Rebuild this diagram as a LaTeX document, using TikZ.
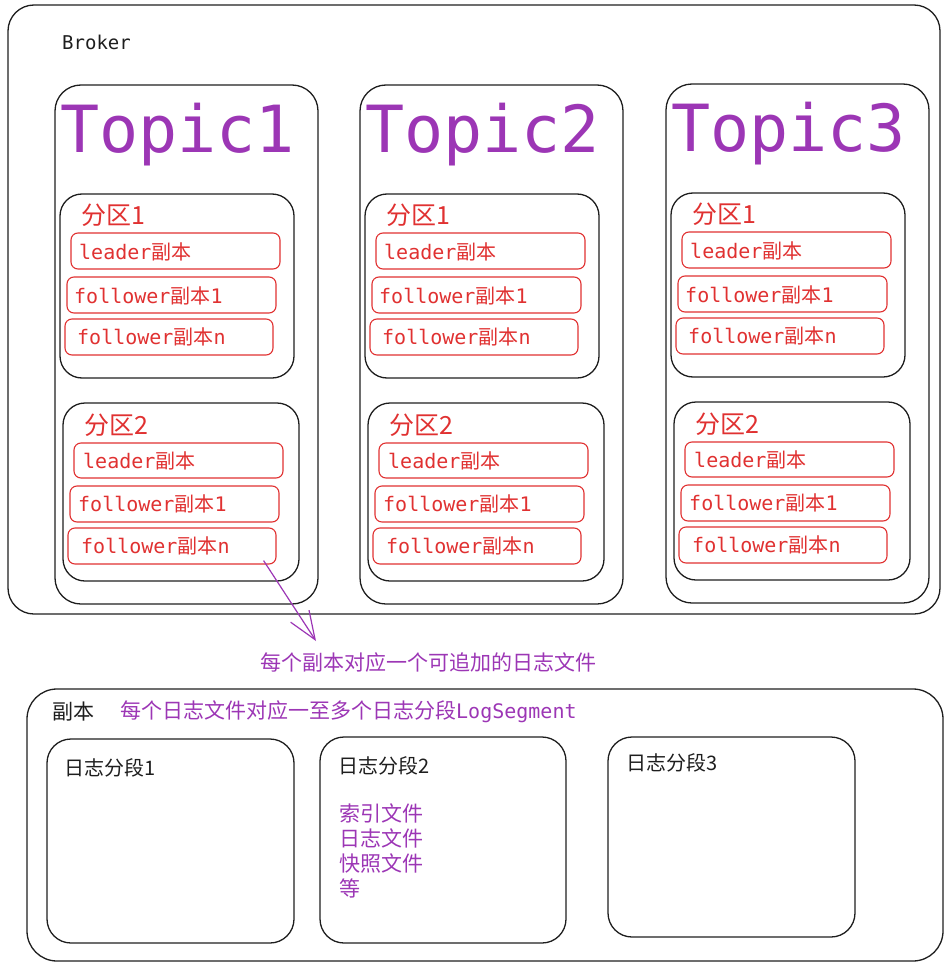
\documentclass[tikz,border=0pt]{standalone}
\usepackage{fontspec}
\newfontfamily\cjk{Noto Sans CJK SC}
\newfontfamily\mono{DejaVu Sans Mono}
\usetikzlibrary{arrows.meta,fit}
\definecolor{vio}{HTML}{9C36B5}
\definecolor{rd}{HTML}{E03131}
\definecolor{ink}{HTML}{1E1E1E}
\tikzset{
  bigbox/.style={draw=ink, line width=1.3pt, rounded corners=26pt, inner sep=0pt},
  partbox/.style={draw=ink, line width=1.3pt, rounded corners=22pt, inner sep=0pt},
  repbox/.style={draw=rd, line width=1.1pt, rounded corners=7pt, inner sep=0pt},
  segbox/.style={draw=ink, line width=1.3pt, rounded corners=24pt, inner sep=0pt},
  toptxt/.style={anchor=base west, inner sep=0pt, text=vio, font=\mono\fontsize{65}{70}\selectfont},
  parttxt/.style={anchor=west, inner sep=0pt, text=rd, font=\cjk\fontsize{25}{28}\selectfont},
  reptxt/.style={anchor=west, inner sep=0pt, text=rd, font=\fontsize{20}{24}\selectfont},
  blktxt/.style={anchor=west, inner sep=0pt, text=ink, font=\cjk\fontsize{20}{24}\selectfont},
  viotxt/.style={anchor=west, inner sep=0pt, text=vio, font=\cjk\fontsize{21}{25}\selectfont},
  arr/.style={draw=vio, line width=1.2pt, -{Straight Barb[length=28pt,width=22pt]}}
}
\begin{document}
\begin{tikzpicture}[x=1pt,y=-1pt]
\useasboundingbox (0,0) rectangle (949,971);
% Broker
\node[bigbox, fit={(8,5) (940,614)}] (broker) {};
\node[anchor=west, inner sep=0pt, text=ink, font=\mono\fontsize{19}{22}\selectfont] (brokerlbl) at (62,42) {Broker};
\foreach \i/\dx/\dy in {1/0/0, 2/305/0, 3/611/-1} {
  \begin{scope}[shift={(\dx,\dy)}]
    \node[bigbox, fit={(55,85) (318,604)}] (t\i) {};
    \node[toptxt] (t\i title) at (60,152) {Topic\i};
    % partition 1
    \node[partbox, fit={(60,194) (294,378)}] (t\i p1) {};
    \node[parttxt] (t\i p1lbl) at (81,215) {分区1};
    \node[repbox, fit={(71,233) (280,269)}] (t\i p1l) {};
    \node[reptxt] (t\i p1ltxt) at (79,252) {\mono leader\cjk 副本};
    \node[repbox, fit={(67,277) (276,313)}] (t\i p1f) {};
    \node[reptxt] (t\i p1ftxt) at (74,296) {\mono follower\cjk 副本\mono 1};
    \node[repbox, fit={(65,319) (273,355)}] (t\i p1n) {};
    \node[reptxt] (t\i p1ntxt) at (77,337) {\mono follower\cjk 副本\mono n};
    % partition 2
    \node[partbox, fit={(63,403) (299,581)}] (t\i p2) {};
    \node[parttxt] (t\i p2lbl) at (84,425) {分区2};
    \node[repbox, fit={(74,443) (283,478)}] (t\i p2l) {};
    \node[reptxt] (t\i p2ltxt) at (83,461) {\mono leader\cjk 副本};
    \node[repbox, fit={(70,486) (279,522)}] (t\i p2f) {};
    \node[reptxt] (t\i p2ftxt) at (78,504) {\mono follower\cjk 副本\mono 1};
    \node[repbox, fit={(68,528) (276,564)}] (t\i p2n) {};
    \node[reptxt] (t\i p2ntxt) at (81,546) {\mono follower\cjk 副本\mono n};
  \end{scope}
}
% note + arrow
\node[viotxt] (note) at (260,663) {每个副本对应一个可追加的日志文件};
\draw[arr] ([shift={(-13,-4)}]t1p2n.south east) -- ([shift={(56,-22)}]note.west);
% replica box
\node[bigbox, rounded corners=30pt, fit={(27,689) (943,961)}] (rep) {};
\node[blktxt, font=\cjk\fontsize{21}{25}\selectfont] (replbl) at (52,712) {副本};
\node[viotxt, font=\fontsize{21}{25}\selectfont] (repnote) at (120,712) {\cjk 每个日志文件对应一至多个日志分段\mono\fontsize{20}{24}\selectfont LogSegment};
\node[segbox, fit={(47,739) (294,943)}] (s1) {};
\node[blktxt] (s1lbl) at (64,768) {日志分段1};
\node[segbox, fit={(320,737) (566,943)}] (s2) {};
\node[blktxt] (s2lbl) at (338,766) {日志分段2};
\node[viotxt, align=left, font=\cjk\fontsize{21}{25}\selectfont, anchor=north west] (s2txt) at (339,804) {索引文件\\日志文件\\快照文件\\等};
\node[segbox, fit={(608,737) (855,937)}] (s3) {};
\node[blktxt] (s3lbl) at (626,763) {日志分段3};
\end{tikzpicture}
\end{document}
